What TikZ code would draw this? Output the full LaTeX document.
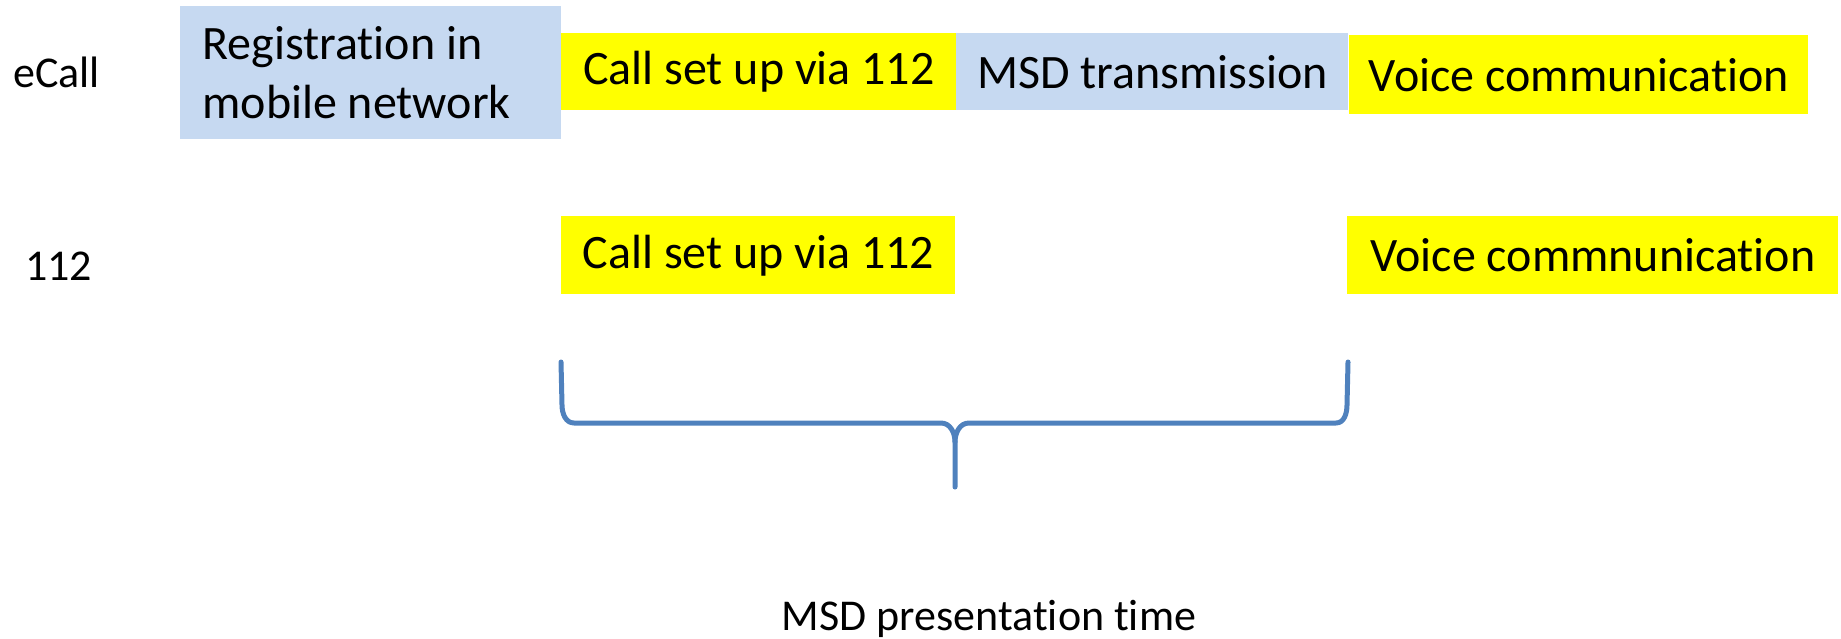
\documentclass[tikz,border=0pt]{standalone}
\usepackage{fontspec}
\setmainfont{Carlito}[Ligatures=NoCommon]
\definecolor{regblue}{HTML}{C6D9F1}
\definecolor{hiyellow}{HTML}{FFFF00}
\definecolor{bracecol}{HTML}{4F81BD}
\begin{document}
\begin{tikzpicture}[x=0.5pt,y=-0.5pt,
  phase/.style={anchor=north west, inner sep=0pt, text=black,
    font=\fontsize{24}{29.5}\selectfont},
  bluephase/.style={phase, fill=regblue},
  yellowphase/.style={phase, fill=hiyellow},
  rowlabel/.style={anchor=base, inner sep=0pt, font=\fontsize{22}{26}\selectfont},
  bracepath/.style={draw=bracecol, line width=2.5pt, line cap=round, line join=round}]
\useasboundingbox (0,0) rectangle (1841,638);
% row labels
\node[rowlabel] (ecall) at (56.5,87) {eCall};
\node[rowlabel] (n112) at (58.5,280) {112};
% eCall row
\node[bluephase, minimum width=190.5pt, minimum height=66.5pt,
      text width=168.5pt, inner xsep=11pt, align=flush left] (reg) at (180,6)
      {Registration in\\mobile network};
\node[yellowphase, minimum width=197.5pt, minimum height=38.5pt] (call1) at (561,33) {Call set up via 112};
\node[bluephase, minimum width=196pt, minimum height=38.5pt] (msd1) at (956,33) {MSD transmission};
\node[yellowphase, minimum width=229.5pt, minimum height=39.5pt] (voice1) at (1349,35) {Voice communication};
% 112 row
\node[yellowphase, minimum width=197pt, minimum height=39pt] (call2) at (561,216) {Call set up via 112};
\node[yellowphase, minimum width=245.5pt, minimum height=39pt] (voice2) at (1347,216) {Voice commnunication};
% brace
\coordinate (bl) at (561,362);
\coordinate (br) at (1348,362);
\coordinate (tip) at (955,487);
\draw[bracepath] (bl) -- (562,405) to[out=-90,in=180] (574,423) -- (941,423)
  to[out=0,in=90] (955,442) -- (tip);
\draw[bracepath] (955,442) to[out=90,in=180] (969,423) -- (1336,423)
  to[out=0,in=-90] (1347,405) -- (br);
\node[rowlabel] (msdtime) at (989,630) {MSD presentation time};
\end{tikzpicture}
\end{document}
